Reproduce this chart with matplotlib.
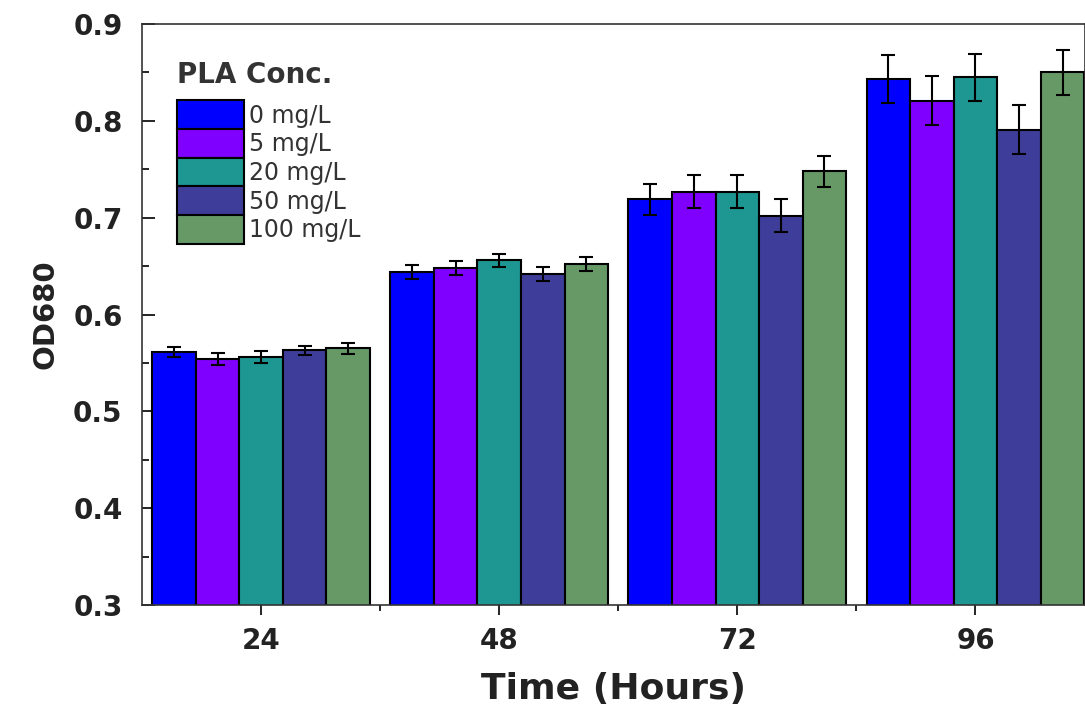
import numpy as np
import matplotlib.pyplot as plt
from matplotlib.patches import Patch
from matplotlib.ticker import MultipleLocator

plt.rcParams['font.family'] = ['DejaVu Sans']

hours = ['24', '48', '72', '96']
conc_labels = ['0 mg/L', '5 mg/L', '20 mg/L', '50 mg/L', '100 mg/L']
colors = ['#0000FF', '#8000FF', '#1E9692', '#3E3E9A', '#669966']

# OD680 per concentration for each time point
od_0 = [0.561, 0.644, 0.719, 0.843]
od_5 = [0.554, 0.648, 0.727, 0.821]
od_20 = [0.556, 0.656, 0.727, 0.845]
od_50 = [0.563, 0.642, 0.702, 0.791]
od_100 = [0.565, 0.652, 0.748, 0.850]

err_0 = [0.005, 0.007, 0.016, 0.025]
err_5 = [0.006, 0.007, 0.017, 0.025]
err_20 = [0.006, 0.007, 0.017, 0.024]
err_50 = [0.005, 0.007, 0.017, 0.025]
err_100 = [0.006, 0.007, 0.016, 0.023]

values = [od_0, od_5, od_20, od_50, od_100]
errors = [err_0, err_5, err_20, err_50, err_100]

fig = plt.figure(figsize=(10.85, 7.11), dpi=100)
ax = fig.add_axes([0.1309, 0.149, 0.8691, 0.8172])

x = np.arange(len(hours))
w = 0.183
for i in range(len(values)):
    pos = x + (i - 2) * w
    ax.bar(pos, values[i], width=w, color=colors[i], edgecolor='black',
           linewidth=1.5, label=conc_labels[i], zorder=2)
    ax.errorbar(pos, values[i], yerr=errors[i], fmt='none', ecolor='black',
                elinewidth=1.5, capsize=5, capthick=1.5, zorder=3)

ax.set_ylim(0.3, 0.9)
ax.set_xlim(-0.5, 3.46)
ax.yaxis.set_major_locator(MultipleLocator(0.1))
ax.yaxis.set_minor_locator(MultipleLocator(0.05))
ax.set_xticks(x)
ax.set_xticklabels(hours)
ax.set_xticks(x[:-1] + 0.5, minor=True)
ax.yaxis.set_major_formatter(plt.FuncFormatter(lambda v, p: f'{v:.1f}'))

ax.tick_params(axis='y', which='major', direction='in', length=9, width=1.2, pad=14)
ax.tick_params(axis='y', which='minor', direction='in', length=5, width=1.2)
ax.tick_params(axis='x', which='major', direction='out', length=7, width=1.2, pad=9)
ax.tick_params(axis='x', which='minor', direction='out', length=4, width=1.2)
ax.tick_params(labelsize=20, labelcolor='#222222')
for lab in ax.get_xticklabels() + ax.get_yticklabels():
    lab.set_fontweight('bold')
for s in ax.spines.values():
    s.set_linewidth(1.2)
    s.set_color('#333333')

ax.set_xlabel('Time (Hours)', fontsize=26, fontweight='bold', labelpad=12, color='#222222')
ax.set_ylabel('OD680', fontsize=21, fontweight='bold', labelpad=10, color='#222222')

handles = [Patch(facecolor=c, edgecolor='black', linewidth=1.5) for c in colors]
leg = ax.legend(handles, conc_labels, loc='upper left', bbox_to_anchor=(0.027, 0.952),
                frameon=False, fontsize=17, title='PLA Conc.',
                title_fontproperties={'weight': 'bold', 'size': 20},
                handlelength=2.84, handleheight=1.49, labelspacing=0.0,
                handletextpad=0.2, borderaxespad=0.0)
leg._legend_box.align = 'left'
leg._legend_box.sep = 8
for t in leg.get_texts():
    t.set_color('#333333')
leg.get_title().set_color('#333333')

fig.savefig('out.png', dpi=100)
